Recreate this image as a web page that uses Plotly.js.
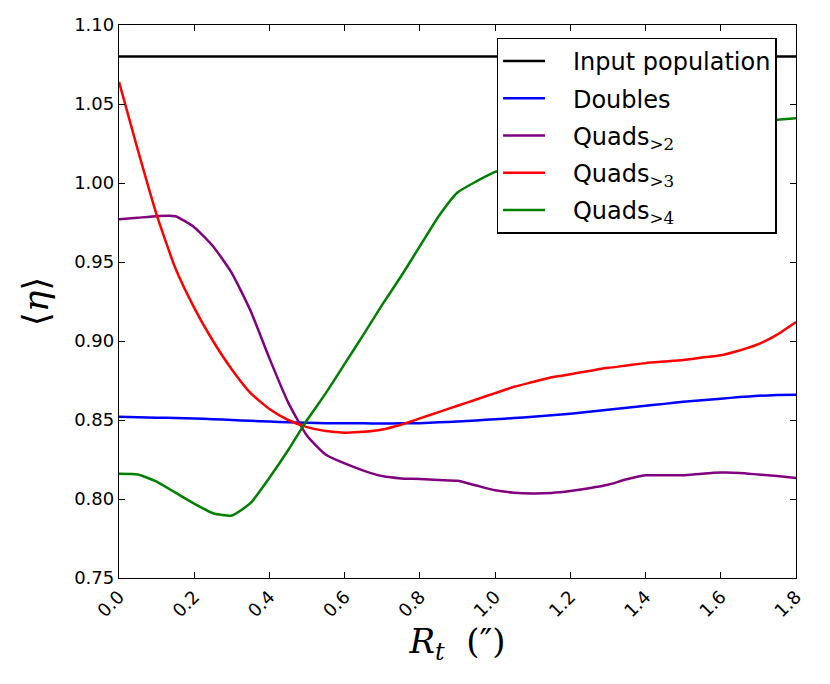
<!DOCTYPE html>
<html>
<head>
<meta charset="utf-8">
<script src="https://cdn.plot.ly/plotly-3.0.1.min.js"></script>
<style>
  body { margin: 0; background: #fff; }
  #plot { width: 830px; height: 684px; }
</style>
</head>
<body>
<div id="plot"></div>
<script>
// radius grid (arcsec)
var rt = [0.00, 0.05, 0.10, 0.15, 0.20, 0.25, 0.30, 0.35, 0.40, 0.45,
          0.50, 0.55, 0.60, 0.65, 0.70, 0.75, 0.80, 0.85, 0.90, 0.95,
          1.00, 1.05, 1.10, 1.15, 1.20, 1.25, 1.30, 1.35, 1.40, 1.45,
          1.50, 1.55, 1.60, 1.65, 1.70, 1.75, 1.80];

var inputPop = 1.08;

var doubles = [0.852, 0.8518, 0.8515, 0.8512, 0.851, 0.8505, 0.850, 0.8495, 0.849, 0.8486,
               0.8482, 0.848, 0.848, 0.8479, 0.8478, 0.8479, 0.848, 0.8485, 0.849, 0.8497,
               0.8505, 0.8512, 0.852, 0.853, 0.854, 0.8552, 0.8565, 0.8577, 0.859, 0.8602,
               0.8615, 0.8625, 0.8635, 0.8645, 0.8653, 0.8658, 0.866];

var quads2 = [0.977, 0.978, 0.979, 0.979, 0.972, 0.960, 0.943, 0.919, 0.889, 0.861,
              0.840, 0.828, 0.8225, 0.818, 0.8145, 0.813, 0.8127, 0.812, 0.8115, 0.8085,
              0.8055, 0.804, 0.8035, 0.8038, 0.805, 0.8068, 0.809, 0.8125, 0.815, 0.815,
              0.815, 0.816, 0.8167, 0.8165, 0.8155, 0.8145, 0.8133];

var quads3 = [1.064, 1.021, 0.980, 0.946, 0.921, 0.900, 0.882, 0.867, 0.857, 0.850,
              0.8455, 0.843, 0.842, 0.8425, 0.844, 0.847, 0.851, 0.855, 0.859, 0.863,
              0.867, 0.871, 0.874, 0.877, 0.879, 0.881, 0.883, 0.8845, 0.886, 0.887,
              0.888, 0.8895, 0.891, 0.894, 0.898, 0.904, 0.912];

var quads4 = [0.816, 0.8155, 0.811, 0.804, 0.797, 0.791, 0.7895, 0.7975, 0.8135, 0.831,
              0.850, 0.867, 0.8855, 0.904, 0.923, 0.941, 0.960, 0.979, 0.994, 1.001,
              1.007, 1.010, 1.014, 1.017, 1.020, 1.023, 1.025, 1.028, 1.030, 1.032,
              1.034, 1.035, 1.037, 1.038, 1.039, 1.040, 1.041];

var pad = '&nbsp;&nbsp;&nbsp;';
var sub = function (s) {
    return '<sub><span style="font-family:\'DejaVu Serif\'">' + s + '</span></sub>';
};
var names = [pad + 'Input population', pad + 'Doubles',
             pad + 'Quads' + sub('&gt;2'), pad + 'Quads' + sub('&gt;3'), pad + 'Quads' + sub('&gt;4')];
var colors = ['#000000', '#0000ff', '#800080', '#ff0000', '#008000'];

var series = [rt.map(function () { return inputPop; }), doubles, quads2, quads3, quads4];

var traces = series.map(function (ys, i) {
    return {
        x: rt,
        y: ys,
        type: 'scatter',
        mode: 'lines',
        name: names[i],
        legendgroup: 'g' + i,
        line: { color: colors[i], width: 2.5, shape: 'spline', smoothing: 0.5 }
    };
});

var axisBase = {
    showline: true,
    mirror: 'ticks',
    linecolor: '#000',
    linewidth: 1.3,
    ticks: 'inside',
    ticklen: 6,
    tickwidth: 1,
    tickcolor: '#000',
    showgrid: false,
    zeroline: false,
    tickfont: { family: 'DejaVu Sans', size: 18, color: '#000' }
};

var layout = {
    width: 830,
    height: 684,
    margin: { l: 119, r: 34, t: 25, b: 106 },
    paper_bgcolor: '#fff',
    plot_bgcolor: '#fff',
    showlegend: true,
    xaxis: Object.assign({}, axisBase, {
        range: [0, 1.8],
        dtick: 0.2,
        tick0: 0,
        tickformat: '.1f',
        tickangle: -45,
        title: {
            text: '<i>R</i><sub><i>t</i></sub>  (″)',
            font: { family: 'DejaVu Serif', size: 34, color: '#000' },
            standoff: 8
        }
    }),
    yaxis: Object.assign({}, axisBase, {
        range: [0.75, 1.10],
        dtick: 0.05,
        tick0: 0.75,
        tickformat: '.2f',
        title: {
            text: '⟨<i>η</i>⟩',
            font: { family: 'DejaVu Serif', size: 36, color: '#000' },
            standoff: 14
        }
    }),
    legend: {
        x: 0.558,
        y: 0.977,
        xanchor: 'left',
        yanchor: 'top',
        bgcolor: '#fff',
        bordercolor: '#000',
        borderwidth: 1.3,
        traceorder: 'grouped',
        tracegroupgap: 3,
        itemwidth: 42,
        font: { family: 'DejaVu Sans', size: 24, color: '#000' }
    }
};

Plotly.newPlot('plot', traces, layout, { displayModeBar: false });
</script>
</body>
</html>
